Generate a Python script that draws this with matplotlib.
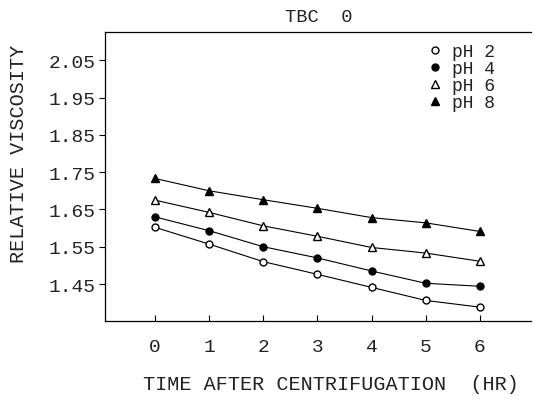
import matplotlib.pyplot as plt

# data
hours = [0, 1, 2, 3, 4, 5, 6]
ph2 = [1.602, 1.557, 1.510, 1.476, 1.441, 1.406, 1.388]
ph4 = [1.630, 1.593, 1.550, 1.520, 1.485, 1.452, 1.444]
ph6 = [1.675, 1.642, 1.606, 1.578, 1.548, 1.533, 1.511]
ph8 = [1.733, 1.700, 1.676, 1.653, 1.628, 1.614, 1.591]
yticks = [1.45, 1.55, 1.65, 1.75, 1.85, 1.95, 2.05]

plt.rcParams['font.family'] = 'Liberation Mono'
txt = '#222222'

fig = plt.figure(figsize=(5.34, 4.06), dpi=100)
ax = fig.add_axes([0.197, 0.207, 0.798, 0.712])

ax.plot(hours, ph2, '-o', color='black', mfc='white', ms=5, lw=0.8, label='pH 2')
ax.plot(hours, ph4, '-o', color='black', mfc='black', ms=5, lw=0.8, label='pH 4')
ax.plot(hours, ph6, '-^', color='black', mfc='white', ms=5.5, lw=0.8, label='pH 6')
ax.plot(hours, ph8, '-^', color='black', mfc='black', ms=5.5, lw=0.8, label='pH 8')

ax.set_xlim(-0.92, 6.95)
ax.set_ylim(1.351, 2.126)
ax.set_xticks(hours)
ax.set_yticks(yticks)
ax.set_yticklabels(['%.2f' % v for v in yticks])
ax.tick_params(axis='x', direction='in', length=4, labelsize=14, pad=12, labelcolor=txt)
ax.tick_params(axis='y', direction='out', length=4, labelsize=14, pad=3, labelcolor=txt)

ax.spines['right'].set_visible(False)
for s in ['left', 'bottom', 'top']:
    ax.spines[s].set_linewidth(0.9)

ax.set_title('TBC  0', fontsize=13.5, pad=8, color=txt)
ax.set_xlabel('TIME AFTER CENTRIFUGATION  (HR)', fontsize=14.5, color=txt)
ax.set_ylabel('RELATIVE VISCOSITY', fontsize=14.5, color=txt)
ax.xaxis.set_label_coords(0.53, -0.185)
ax.yaxis.set_label_coords(-0.18, 0.58)

leg = ax.legend(loc='upper left', frameon=False, fontsize=13, handlelength=0,
                handletextpad=0.9, labelspacing=0.0, borderaxespad=0.0,
                bbox_to_anchor=(0.758, 0.985))
for t in leg.get_texts():
    t.set_color(txt)

fig.savefig('out.png', dpi=100)
